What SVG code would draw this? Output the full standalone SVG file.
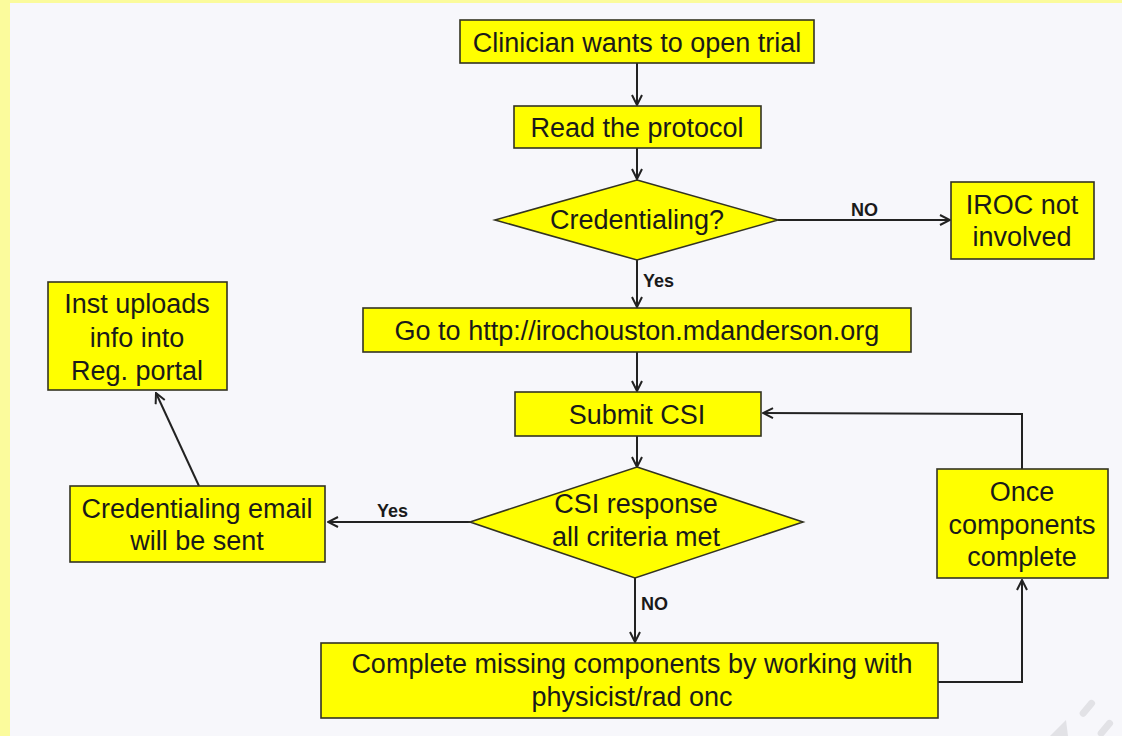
<svg xmlns="http://www.w3.org/2000/svg" width="1122" height="736" viewBox="0 0 1122 736">
  <style>
    .box { fill: #ffff00; stroke: #333322; stroke-width: 1.6; }
    .t { font-family: "Liberation Sans", Arial, sans-serif; font-size: 27px; fill: #1a1a1a; text-anchor: middle; }
    .lbl { font-family: "Liberation Sans", Arial, sans-serif; font-size: 18px; font-weight: bold; fill: #1a1a1a; }
    .wire { fill: none; stroke: #222; stroke-width: 2; }
  </style>
  <defs>
    <marker id="arr" viewBox="0 0 12 12" refX="11" refY="6" markerWidth="12" markerHeight="12" markerUnits="userSpaceOnUse" orient="auto">
      <path d="M1,1 L11,6 L1,11" fill="none" stroke="#222" stroke-width="2"/>
    </marker>
  </defs>

  <!-- page background with yellow frame -->
  <rect x="0" y="0" width="1122" height="736" fill="#fbfb9c"/>
  <rect x="10" y="3" width="1112" height="733" fill="#f7f7fb"/>

  <!-- connectors -->
  <g id="connectors">
    <line class="wire" x1="637" y1="63" x2="637" y2="105" marker-end="url(#arr)"/>
    <line class="wire" x1="637" y1="148" x2="637" y2="179" marker-end="url(#arr)"/>
    <line class="wire" x1="778" y1="220" x2="950" y2="220" marker-end="url(#arr)"/>
    <text class="lbl" x="851" y="216">NO</text>
    <line class="wire" x1="637" y1="260" x2="637" y2="307" marker-end="url(#arr)"/>
    <text class="lbl" x="643" y="287">Yes</text>
    <line class="wire" x1="637" y1="352" x2="637" y2="391" marker-end="url(#arr)"/>
    <line class="wire" x1="637" y1="436" x2="637" y2="467" marker-end="url(#arr)"/>
    <line class="wire" x1="470" y1="522" x2="328" y2="522" marker-end="url(#arr)"/>
    <text class="lbl" x="377" y="517">Yes</text>
    <line class="wire" x1="199" y1="486" x2="156" y2="393" marker-end="url(#arr)"/>
    <line class="wire" x1="635" y1="578" x2="635" y2="642" marker-end="url(#arr)"/>
    <text class="lbl" x="641" y="610">NO</text>
    <polyline class="wire" points="938,682 1022,682 1022,580" marker-end="url(#arr)"/>
    <polyline class="wire" points="1022,469 1022,414 763,413" marker-end="url(#arr)"/>
  </g>

  <g id="start">
    <rect class="box" x="460" y="20" width="354" height="43"/>
    <text class="t" x="637" y="52">Clinician wants to open trial</text>
  </g>

  <g id="read">
    <rect class="box" x="514" y="106" width="247" height="42"/>
    <text class="t" x="637" y="137">Read the protocol</text>
  </g>

  <g id="credentialing">
    <polygon class="box" points="637,180 778,220 637,260 495,220"/>
    <text class="t" x="637" y="229">Credentialing?</text>
  </g>

  <g id="iroc">
    <rect class="box" x="951" y="182" width="143" height="77"/>
    <text class="t" x="1022" y="214">IROC not</text>
    <text class="t" x="1022" y="246">involved</text>
  </g>

  <g id="goto">
    <rect class="box" x="363" y="308" width="548" height="44"/>
    <text class="t" x="637" y="340">Go to http://irochouston.mdanderson.org</text>
  </g>

  <g id="submit">
    <rect class="box" x="515" y="392" width="246" height="44"/>
    <text class="t" x="637" y="424">Submit CSI</text>
  </g>

  <g id="csi-response">
    <polygon class="box" points="637,467 803,522 635,578 470,522"/>
    <text class="t" x="636" y="513">CSI response</text>
    <text class="t" x="636" y="546">all criteria met</text>
  </g>

  <g id="email">
    <rect class="box" x="70" y="486" width="255" height="76"/>
    <text class="t" x="197" y="518">Credentialing email</text>
    <text class="t" x="197" y="550">will be sent</text>
  </g>

  <g id="uploads">
    <rect class="box" x="48" y="282" width="179" height="108"/>
    <text class="t" x="137" y="313">Inst uploads</text>
    <text class="t" x="137" y="347">info into</text>
    <text class="t" x="137" y="380">Reg. portal</text>
  </g>

  <g id="complete-missing">
    <rect class="box" x="321" y="643" width="617" height="75"/>
    <text class="t" x="632" y="673">Complete missing components by working with</text>
    <text class="t" x="632" y="706">physicist/rad onc</text>
  </g>

  <g id="once">
    <rect class="box" x="937" y="469" width="171" height="109"/>
    <text class="t" x="1022" y="501">Once</text>
    <text class="t" x="1022" y="534">components</text>
    <text class="t" x="1022" y="566">complete</text>
  </g>

  <!-- faint speaker glyph in the corner -->
  <g id="speaker" fill="#e2e2e6" stroke="none">
    <polygon points="1050,736 1066,720 1068,736"/>
    <rect x="1084" y="698" width="7" height="20" rx="3.5" transform="rotate(40 1087 708)"/>
    <rect x="1102" y="718" width="7" height="20" rx="3.5" transform="rotate(40 1105 728)"/>
  </g>
</svg>
